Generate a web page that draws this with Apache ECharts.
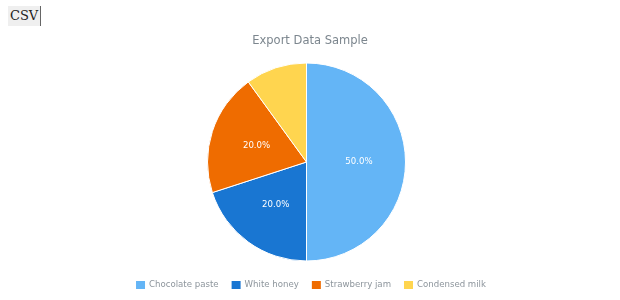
<!DOCTYPE html>
<html><head><meta charset="utf-8">
<script src="https://cdn.jsdelivr.net/npm/echarts@6/dist/echarts.min.js"></script>
<style>
html,body{margin:0;padding:0;background:#fff;}
#chart{position:absolute;left:0;top:0;width:620px;height:300px;}
#csv{position:absolute;left:8px;top:6px;height:20px;padding:0 2px 0 2px;font-family:"DejaVu Serif","Liberation Serif",serif;font-size:13px;color:#222;background:#efefef;border:none;border-right:1px solid #666;z-index:2;line-height:20px;}
</style></head>
<body>
<div id="chart"></div>
<div id="csv">CSV</div>
<script>
const categories = ["Chocolate paste", "White honey", "Strawberry jam", "Condensed milk"];
const values = [5, 2, 2, 1];
const colors = ["#64b5f6", "#1976d2", "#ef6c00", "#ffd54f"];
const showLabel = [true, true, true, false];

const chart = echarts.init(document.getElementById('chart'));
const total = values.reduce((a, b) => a + b, 0);
chart.setOption({
  animation: false,
  title: {
    text: "Export Data Sample",
    left: 'center', top: 30,
    textStyle: {fontFamily: 'DejaVu Sans', fontSize: 11.5, fontWeight: 'normal', color: '#7c868e'}
  },
  legend: {
    top: 274, left: 'center',
    itemWidth: 11, itemHeight: 10, itemGap: 11,
    icon: 'rect',
    textStyle: {fontFamily: 'DejaVu Sans', fontSize: 8.6, color: '#8d959c', padding: [0, 0, 0, -2]},
    data: categories
  },
  series: [{
    type: 'pie',
    center: [306.5, 162],
    radius: [0, 99],
    startAngle: 90,
    clockwise: true,
    label: {
      position: 'inside',
      color: '#fff',
      fontFamily: 'DejaVu Sans',
      fontSize: 8.6,
      formatter: p => (p.value / total * 100).toFixed(1) + '%'
    },
    labelLine: {show: false},
    itemStyle: {borderColor: '#fff', borderWidth: 1},
    emphasis: {disabled: true},
    data: categories.map((c, i) => ({
      name: c, value: values[i],
      itemStyle: {color: colors[i]},
      label: {show: showLabel[i]}
    }))
  }]
});
</script>
</body></html>
